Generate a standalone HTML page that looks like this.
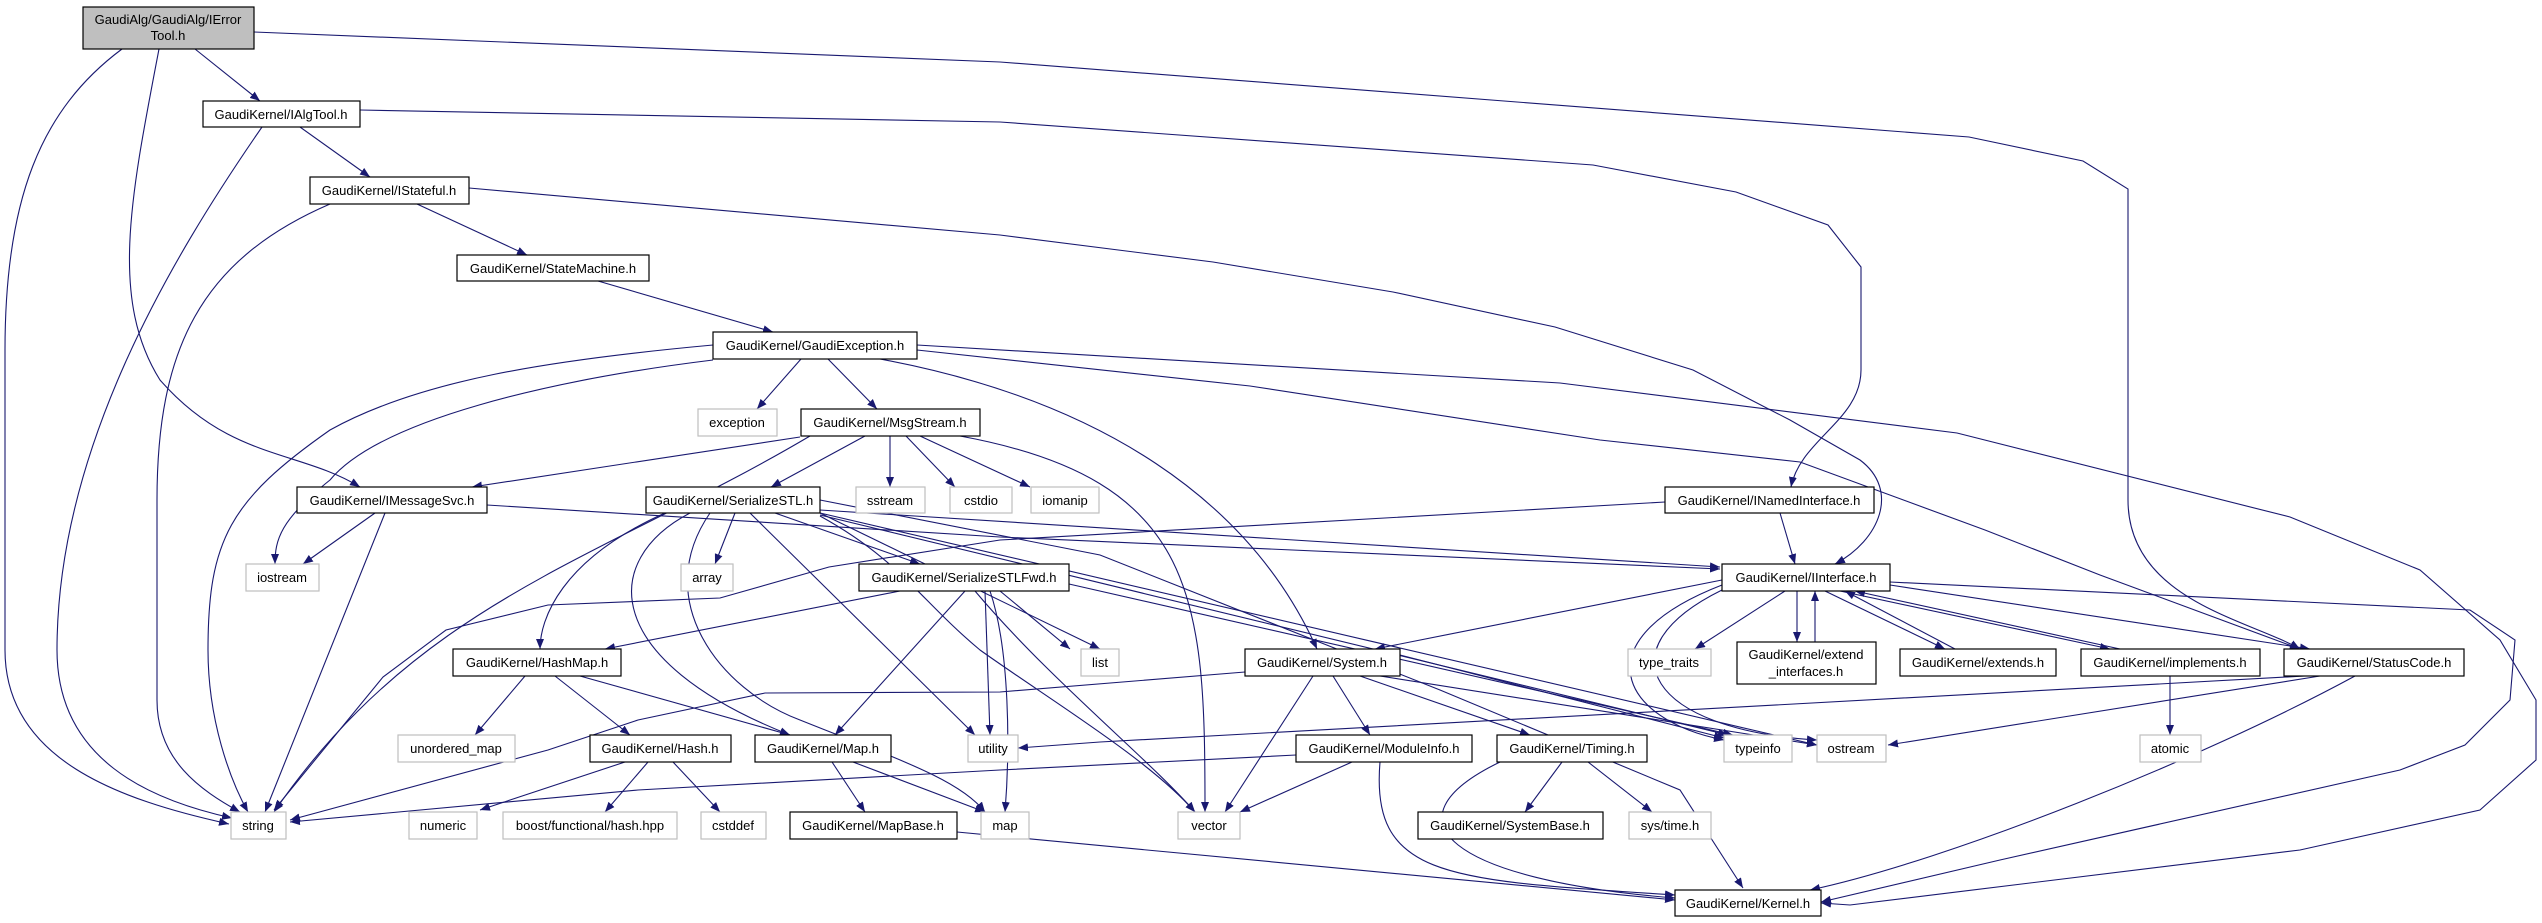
<!DOCTYPE html>
<html><head><meta charset="utf-8"><style>
html,body{margin:0;padding:0;background:#fff;}
svg{display:block;}
text{font-family:"Liberation Sans",sans-serif;font-size:13px;fill:#000;}
.e{fill:none;stroke:#191970;stroke-width:1.1;}
.n{fill:#fff;stroke:#000;stroke-width:1.2;}
.g{fill:#fff;stroke:#bfbfbf;stroke-width:1.2;}
</style></head><body>
<svg width="2542" height="923" viewBox="0 0 2542 923" xmlns="http://www.w3.org/2000/svg">
<defs><marker id="a" viewBox="0 0 10 8" refX="10" refY="4" markerWidth="10" markerHeight="8" markerUnits="userSpaceOnUse" orient="auto"><path d="M0,0L10,4L0,8z" fill="#191970"/></marker></defs>
<g class="e" marker-end="url(#a)">
<path d="M195,49L260,101"/>
<path d="M122,49C40,110 5,200 5,350L5,650C5,760 120,800 229,824"/>
<path d="M159,49C130,200 110,300 160,380C230,460 300,450 360,487"/>
<path d="M254,32L1000,62L1969,137L2083,161L2128,189L2128,500C2128,600 2250,620 2300,649"/>
<path d="M262,127C170,260 57,450 57,650C57,760 150,800 232,818"/>
<path d="M300,127L370,177"/>
<path d="M360,110L1000,122L1593,165L1736,192L1828,225L1861,267L1861,370C1861,420 1800,440 1791,487"/>
<path d="M417,204L527,255"/>
<path d="M330,204C200,260 157,350 157,500L157,700C157,760 200,790 240,812"/>
<path d="M469,188L1000,235L1213,262L1393,292L1555,327L1693,370L1790,420L1860,460C1900,490 1880,540 1835,564"/>
<path d="M598,281L773,332"/>
<path d="M801,359L757,409"/>
<path d="M828,359L877,409"/>
<path d="M713,345C550,360 420,380 330,430C230,500 208,540 208,650C208,720 230,780 248,812"/>
<path d="M713,360C550,380 380,420 330,480C280,520 275,540 275,564"/>
<path d="M880,359C1100,400 1250,500 1317,649"/>
<path d="M917,345L1560,383L1957,433L2290,517L2420,570L2500,640L2536,700L2536,760L2480,810L2300,850L1850,905L1821,903"/>
<path d="M917,350L1250,386L1600,440L1800,462L1985,530L2100,575L2300,649"/>
<path d="M800,437L472,487"/>
<path d="M865,436L771,487"/>
<path d="M890,436L890,487"/>
<path d="M906,436L955,487"/>
<path d="M920,436L1030,487"/>
<path d="M810,436C600,560 420,600 274,812"/>
<path d="M960,436C1200,480 1205,600 1205,812"/>
<path d="M375,513L303,564"/>
<path d="M385,513L265,812"/>
<path d="M487,505L1000,537L1720,569"/>
<path d="M735,513L715,564"/>
<path d="M775,513L920,564"/>
<path d="M665,513C560,560 540,620 540,649"/>
<path d="M690,513C600,560 600,660 790,735"/>
<path d="M710,513C650,600 720,690 800,720C900,760 960,780 985,812"/>
<path d="M750,513L975,735"/>
<path d="M820,513L1100,649"/>
<path d="M820,516C900,560 920,600 980,650C1050,700 1150,760 1195,812"/>
<path d="M820,510L1720,567"/>
<path d="M820,513L1817,745"/>
<path d="M820,515L1728,735"/>
<path d="M820,500L1100,555L1440,690L1680,790L1743,888"/>
<path d="M900,591L605,649"/>
<path d="M965,591L835,735"/>
<path d="M985,591L990,735"/>
<path d="M990,591C1010,650 1010,750 1005,812"/>
<path d="M975,591C1050,680 1150,760 1195,812"/>
<path d="M1000,591L1070,649"/>
<path d="M1069,584L1733,735"/>
<path d="M525,676L475,735"/>
<path d="M555,676L630,735"/>
<path d="M580,676L790,735"/>
<path d="M625,762L480,810"/>
<path d="M648,762L605,812"/>
<path d="M673,762L720,812"/>
<path d="M832,762L865,812"/>
<path d="M853,762L985,812"/>
<path d="M957,832L1675,900"/>
<path d="M1722,580L1375,649"/>
<path d="M1785,591L1695,649"/>
<path d="M1797,591L1797,642"/>
<path d="M1815,642L1815,591"/>
<path d="M1825,591L1945,649"/>
<path d="M1955,649L1845,591"/>
<path d="M1840,591L2110,649"/>
<path d="M2120,649L1855,591"/>
<path d="M1890,585L2310,649"/>
<path d="M1890,582L2470,610L2515,640L2510,700L2465,745L2400,770L2000,860L1821,902"/>
<path d="M1722,585C1580,640 1620,720 1724,740"/>
<path d="M1722,590C1600,650 1650,730 1817,740"/>
<path d="M1245,672L1000,692L765,693L638,720L548,750L290,820"/>
<path d="M1333,676L1370,735"/>
<path d="M1360,676L1530,735"/>
<path d="M1313,676L1225,812"/>
<path d="M1400,655L1724,738"/>
<path d="M1380,676L1817,745"/>
<path d="M1780,513L1795,564"/>
<path d="M1665,502L1000,540L829,567L720,598L548,605L446,630L383,677L274,810"/>
<path d="M2305,676L1100,742L1018,748"/>
<path d="M2320,676L1888,745"/>
<path d="M2355,676C2200,760 1950,860 1810,890"/>
<path d="M2170,676L2170,735"/>
<path d="M1296,755L1000,770L638,790L290,822"/>
<path d="M1352,762L1240,812"/>
<path d="M1380,762C1370,880 1450,880 1675,895"/>
<path d="M1562,762L1525,812"/>
<path d="M1588,762L1652,812"/>
<path d="M1500,762C1380,820 1450,880 1675,898"/>
</g>
<g>
<rect x="83" y="7" width="171" height="42" fill="#bfbfbf" stroke="#000" stroke-width="1.2"/>
<text x="168" y="24" text-anchor="middle">GaudiAlg/GaudiAlg/IError</text><text x="168" y="40" text-anchor="middle">Tool.h</text>
</g>
<g text-anchor="middle">
<rect class="n" x="203" y="101" width="157" height="26"/><text x="281" y="119">GaudiKernel/IAlgTool.h</text>
<rect class="n" x="310" y="177" width="159" height="27"/><text x="389" y="195">GaudiKernel/IStateful.h</text>
<rect class="n" x="457" y="255" width="192" height="26"/><text x="553" y="273">GaudiKernel/StateMachine.h</text>
<rect class="n" x="713" y="332" width="204" height="27"/><text x="815" y="350">GaudiKernel/GaudiException.h</text>
<rect class="g" x="698" y="409" width="79" height="27"/><text x="737" y="427">exception</text>
<rect class="n" x="801" y="409" width="179" height="27"/><text x="890" y="427">GaudiKernel/MsgStream.h</text>
<rect class="n" x="297" y="487" width="190" height="26"/><text x="392" y="505">GaudiKernel/IMessageSvc.h</text>
<rect class="n" x="646" y="487" width="174" height="26"/><text x="733" y="505">GaudiKernel/SerializeSTL.h</text>
<rect class="g" x="856" y="487" width="69" height="26"/><text x="890" y="505">sstream</text>
<rect class="g" x="950" y="487" width="62" height="26"/><text x="981" y="505">cstdio</text>
<rect class="g" x="1031" y="487" width="68" height="26"/><text x="1065" y="505">iomanip</text>
<rect class="n" x="1665" y="487" width="209" height="26"/><text x="1769" y="505">GaudiKernel/INamedInterface.h</text>
<rect class="g" x="246" y="564" width="73" height="27"/><text x="282" y="582">iostream</text>
<rect class="g" x="681" y="564" width="52" height="27"/><text x="707" y="582">array</text>
<rect class="n" x="859" y="564" width="210" height="27"/><text x="964" y="582">GaudiKernel/SerializeSTLFwd.h</text>
<rect class="n" x="1722" y="564" width="168" height="27"/><text x="1806" y="582">GaudiKernel/IInterface.h</text>
<rect class="n" x="453" y="649" width="168" height="27"/><text x="537" y="667">GaudiKernel/HashMap.h</text>
<rect class="g" x="1081" y="649" width="38" height="27"/><text x="1100" y="667">list</text>
<rect class="n" x="1245" y="649" width="155" height="27"/><text x="1322" y="667">GaudiKernel/System.h</text>
<rect class="g" x="1628" y="649" width="83" height="27"/><text x="1669" y="667">type_traits</text>
<rect class="n" x="1737" y="642" width="139" height="42"/><text x="1806" y="659">GaudiKernel/extend</text><text x="1806" y="676">_interfaces.h</text>
<rect class="n" x="1900" y="649" width="156" height="27"/><text x="1978" y="667">GaudiKernel/extends.h</text>
<rect class="n" x="2081" y="649" width="179" height="27"/><text x="2170" y="667">GaudiKernel/implements.h</text>
<rect class="n" x="2284" y="649" width="180" height="27"/><text x="2374" y="667">GaudiKernel/StatusCode.h</text>
<rect class="g" x="398" y="735" width="117" height="27"/><text x="456" y="753">unordered_map</text>
<rect class="n" x="590" y="735" width="141" height="27"/><text x="660" y="753">GaudiKernel/Hash.h</text>
<rect class="n" x="755" y="735" width="136" height="27"/><text x="823" y="753">GaudiKernel/Map.h</text>
<rect class="g" x="968" y="735" width="50" height="27"/><text x="993" y="753">utility</text>
<rect class="n" x="1296" y="735" width="176" height="27"/><text x="1384" y="753">GaudiKernel/ModuleInfo.h</text>
<rect class="n" x="1497" y="735" width="150" height="27"/><text x="1572" y="753">GaudiKernel/Timing.h</text>
<rect class="g" x="1724" y="735" width="68" height="27"/><text x="1758" y="753">typeinfo</text>
<rect class="g" x="1817" y="735" width="69" height="27"/><text x="1851" y="753">ostream</text>
<rect class="g" x="2140" y="735" width="61" height="27"/><text x="2170" y="753">atomic</text>
<rect class="g" x="231" y="812" width="55" height="27"/><text x="258" y="830">string</text>
<rect class="g" x="409" y="812" width="68" height="27"/><text x="443" y="830">numeric</text>
<rect class="g" x="503" y="812" width="174" height="27"/><text x="590" y="830">boost/functional/hash.hpp</text>
<rect class="g" x="701" y="812" width="65" height="27"/><text x="733" y="830">cstddef</text>
<rect class="n" x="790" y="812" width="167" height="27"/><text x="873" y="830">GaudiKernel/MapBase.h</text>
<rect class="g" x="981" y="812" width="48" height="27"/><text x="1005" y="830">map</text>
<rect class="g" x="1178" y="812" width="62" height="27"/><text x="1209" y="830">vector</text>
<rect class="n" x="1418" y="812" width="185" height="27"/><text x="1510" y="830">GaudiKernel/SystemBase.h</text>
<rect class="g" x="1629" y="812" width="82" height="27"/><text x="1670" y="830">sys/time.h</text>
<rect class="n" x="1675" y="890" width="146" height="26"/><text x="1748" y="908">GaudiKernel/Kernel.h</text>
</g>
</svg>
</body></html>
